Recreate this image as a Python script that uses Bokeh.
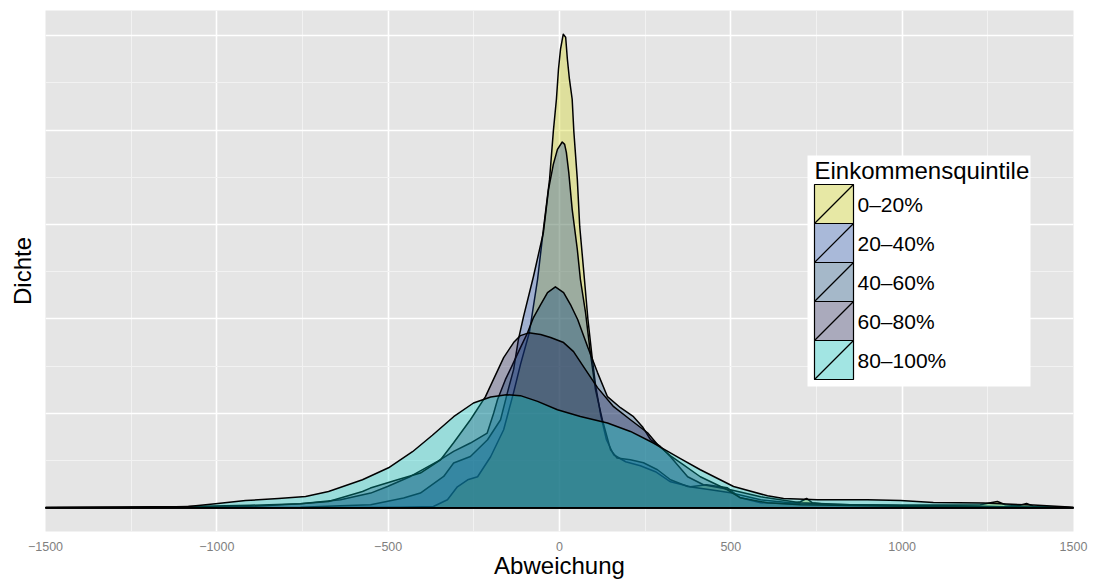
from bokeh.plotting import figure
from bokeh.models import Range1d, FixedTicker, BoxAnnotation, PolyAnnotation, Label
from bokeh.embed import file_html
from bokeh.resources import INLINE

# ---------------- data ----------------
groups = ["0–20%", "20–40%", "40–60%", "60–80%", "80–100%"]
colors = ["#d2d40a", "#1446a8", "#0a4276", "#17174f", "#00cac4"]

x_q1 = [-1500, -756, -464, -368, -327, -298, -268, -239, -201, -163, -134, -114, -88, -64, -47,
        -29, -18, -9, -3, 3, 11, 18, 23, 29, 37, 42, 52, 59, 71, 83, 95, 105, 120, 137, 158, 193,
        236, 280, 324, 382, 429, 490, 528, 587, 674, 703, 721, 738, 791, 995, 1228, 1258, 1278,
        1301, 1339, 1363, 1383, 1500]
d_q1 = [0.0, 0.002, 0.007, 0.014, 0.085, 0.223, 0.297, 0.329, 0.541, 0.827, 1.220, 1.516, 1.856,
        2.418, 2.948, 3.478, 3.987, 4.327, 4.645, 4.857, 5.016, 4.984, 4.751, 4.539, 4.327, 3.977,
        3.478, 2.980, 2.492, 1.994, 1.601, 1.304, 0.986, 0.721, 0.562, 0.488, 0.445, 0.382, 0.276,
        0.223, 0.244, 0.212, 0.106, 0.053, 0.042, 0.064, 0.099, 0.053, 0.032, 0.027, 0.032, 0.053,
        0.067, 0.032, 0.021, 0.045, 0.016, 0.0]

x_q2 = [-1500, -1048, -756, -639, -551, -455, -406, -338, -309, -260, -210, -172, -152, -134,
        -120, -105, -76, -47, -32, -18, -6, 8, 15, 20, 27, 37, 52, 61, 76, 90, 105, 125, 149, 168,
        207, 245, 286, 324, 374, 441, 499, 587, 703, 995, 1287, 1500]
d_q2 = [0.0, 0.002, 0.007, 0.021, 0.032, 0.103, 0.156, 0.332, 0.474, 0.544, 0.721, 0.933, 1.220,
        1.463, 1.782, 2.025, 2.450, 2.916, 3.372, 3.637, 3.796, 3.874, 3.849, 3.765, 3.553, 3.160,
        2.736, 2.418, 2.068, 1.644, 1.251, 0.933, 0.615, 0.527, 0.509, 0.477, 0.403, 0.297, 0.226,
        0.191, 0.159, 0.085, 0.042, 0.021, 0.011, 0.0]

x_q3 = [-1500, -1193, -902, -756, -639, -551, -502, -435, -356, -309, -260, -211, -192, -181,
        -158, -137, -114, -93, -76, -55, -35, -12, 12, 32, 53, 82, 111, 140, 178, 216, 242, 266,
        295, 324, 374, 420, 499, 587, 703, 849, 1141, 1500]
d_q3 = [0.0, 0.003, 0.016, 0.042, 0.085, 0.156, 0.226, 0.332, 0.491, 0.597, 0.686, 0.792, 1.004,
        1.145, 1.357, 1.516, 1.697, 1.856, 2.015, 2.153, 2.280, 2.340, 2.280, 2.153, 1.994, 1.707,
        1.432, 1.177, 1.060, 0.965, 0.859, 0.721, 0.647, 0.541, 0.329, 0.244, 0.191, 0.117, 0.053,
        0.032, 0.021, 0.0]

x_q4 = [-1500, -1193, -902, -756, -674, -575, -552, -473, -406, -347, -309, -260, -216, -193,
        -163, -134, -114, -90, -55, -26, 12, 41, 70, 111, 158, 207, 257, 289, 324, 362, 411, 490,
        528, 607, 703, 995, 1500]
d_q4 = [0.0, 0.005, 0.027, 0.042, 0.067, 0.173, 0.209, 0.297, 0.368, 0.509, 0.689, 0.933, 1.177,
        1.357, 1.591, 1.750, 1.824, 1.853, 1.835, 1.803, 1.750, 1.654, 1.495, 1.273, 1.071, 0.933,
        0.795, 0.657, 0.551, 0.456, 0.329, 0.191, 0.106, 0.053, 0.032, 0.016, 0.0]

x_q5 = [-1500, -1281, -1083, -1004, -916, -820, -741, -674, -575, -499, -429, -371, -309, -251,
        -201, -155, -114, -64, -6, 61, 140, 207, 274, 353, 411, 508, 607, 654, 753, 899, 995, 1091,
        1237, 1383, 1500]
d_q5 = [0.005, 0.008, 0.014, 0.042, 0.077, 0.099, 0.120, 0.173, 0.297, 0.424, 0.594, 0.769, 0.965,
        1.110, 1.174, 1.198, 1.188, 1.127, 1.039, 0.968, 0.898, 0.809, 0.686, 0.520, 0.403, 0.226,
        0.127, 0.099, 0.085, 0.085, 0.077, 0.056, 0.050, 0.029, 0.007]

density_scale = 0.001   # the values above are given in thousandths

x_ticks = [-1500, -1000, -500, 0, 500, 1000, 1500]
x_tick_labels = ["\u22121500", "\u22121000", "\u2212500", "0", "500", "1000", "1500"]
y_grid = [0.0, 0.001, 0.002, 0.003, 0.004, 0.005]

x_title = "Abweichung"
y_title = "Dichte"
legend_title = "Einkommensquintile"

series = [(x_q1, d_q1), (x_q2, d_q2), (x_q3, d_q3), (x_q4, d_q4), (x_q5, d_q5)]

# ---------------- figure ----------------
FONT = "Liberation Sans"
ymax = max(max(d) for _, d in series) * density_scale
pad = 0.05 * ymax

p = figure(width=1093, height=581, output_backend="svg", toolbar_location=None,
           x_range=Range1d(x_ticks[0], x_ticks[-1]), y_range=Range1d(-pad, ymax + pad),
           min_border_left=45, min_border_right=20, min_border_top=10, min_border_bottom=49,
           background_fill_color="#e5e5e5", border_fill_color="white", outline_line_color=None)

def mids(v):
    return [(a + b) / 2 for a, b in zip(v[:-1], v[1:])]

p.xgrid.ticker = FixedTicker(ticks=x_ticks, minor_ticks=mids(x_ticks))
p.ygrid.ticker = FixedTicker(ticks=y_grid, minor_ticks=mids(y_grid))
for g in (p.xgrid, p.ygrid):
    g.grid_line_color = "white"
    g.grid_line_width = 1.6
    g.minor_grid_line_color = "#f2f2f2"
    g.minor_grid_line_width = 1.0

p.xaxis.ticker = FixedTicker(ticks=x_ticks)
p.xaxis.major_label_overrides = {t: l for t, l in zip(x_ticks, x_tick_labels)}
p.yaxis.ticker = FixedTicker(ticks=[])
for ax in (p.xaxis, p.yaxis):
    ax.axis_line_color = None
    ax.major_tick_line_color = None
    ax.minor_tick_line_color = None
    ax.major_label_text_font = FONT
    ax.major_label_text_font_size = "12.5px"
    ax.major_label_text_color = "#7f7f7f"
    ax.axis_label_text_font = FONT
    ax.axis_label_text_font_size = "24px"
    ax.axis_label_text_font_style = "normal"
    ax.axis_label_text_color = "black"
p.xaxis.axis_label = x_title
p.yaxis.axis_label = y_title
p.xaxis.major_label_standoff = 4
p.xaxis.axis_label_standoff = -2
p.yaxis.axis_label_standoff = 10

ALPHA = 0.33
for (xs, ds), col in zip(series, colors):
    px = [xs[0]] + list(xs) + [xs[-1]]
    py = [0.0] + [d * density_scale for d in ds] + [0.0]
    p.patch(px, py, fill_color=col, fill_alpha=ALPHA, line_color="black", line_width=1.5,
            line_join="round")

# ---------------- legend (screen units, relative to the plot frame) ----------------
box_l, box_r, box_b, box_t = 762, 985, 145, 376
key_l, key_w, key_top, key_h = 769, 39, 347, 39
p.add_layout(BoxAnnotation(left=box_l, right=box_r, bottom=box_b, top=box_t,
                           left_units="screen", right_units="screen",
                           bottom_units="screen", top_units="screen",
                           fill_color="white", fill_alpha=1.0, line_color=None))
p.add_layout(Label(x=key_l, y=box_t - 15, x_units="screen", y_units="screen",
                   text=legend_title, text_font=FONT, text_font_size="24px", text_color="black",
                   text_baseline="middle", text_align="left"))
for i, (name, col) in enumerate(zip(groups, colors)):
    top = key_top - i * key_h
    bot = top - key_h
    p.add_layout(BoxAnnotation(left=key_l, right=key_l + key_w, bottom=bot, top=top,
                               left_units="screen", right_units="screen",
                               bottom_units="screen", top_units="screen",
                               fill_color="#f2f2f2", fill_alpha=1.0, line_color=None))
    p.add_layout(BoxAnnotation(left=key_l, right=key_l + key_w, bottom=bot, top=top,
                               left_units="screen", right_units="screen",
                               bottom_units="screen", top_units="screen",
                               fill_color=col, fill_alpha=ALPHA,
                               line_color="black", line_alpha=1.0, line_width=1.2))
    p.add_layout(PolyAnnotation(xs=[key_l, key_l + key_w], ys=[bot, top],
                                xs_units="screen", ys_units="screen",
                                fill_alpha=0, line_color="black", line_alpha=1.0, line_width=1.2))
    p.add_layout(Label(x=key_l + key_w + 4, y=(top + bot) / 2, x_units="screen", y_units="screen",
                       text=name, text_font=FONT, text_font_size="21px", text_color="black",
                       text_baseline="middle", text_align="left"))

open("out.html", "w").write(file_html(p, INLINE))
